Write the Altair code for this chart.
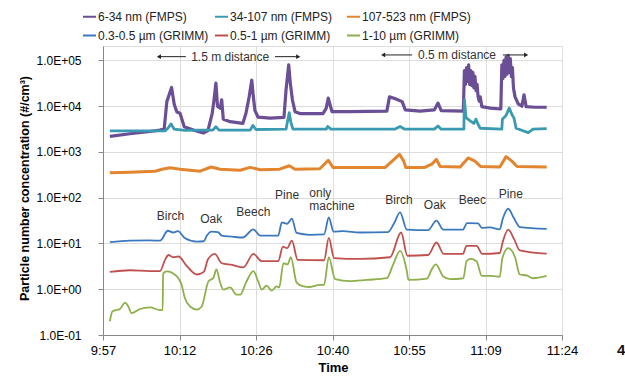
import altair as alt
import pandas as pd

# ---------------- data (minutes after 9:57, concentration #/cm3) ----------------
series_names = ["6-34 nm (FMPS)", "34-107 nm (FMPS)", "107-523 nm (FMPS)",
                "0.3-0.5 µm (GRIMM)", "0.5-1 µm (GRIMM)", "1-10 µm (GRIMM)"]
series_colors = ["#6A4E96", "#3A9AB2", "#E3852E", "#3C78C0", "#C0504D", "#8DB04A"]
series_widths = [3.2, 2.8, 3.0, 1.8, 1.8, 1.8]
series_group = ["FMPS", "FMPS", "FMPS", "GRIMM", "GRIMM", "GRIMM"]
# legend is laid out column by column: order so that rows read as in the figure
legend_order = [0, 3, 1, 4, 2, 5]

t_s1 = [1.3, 5.1, 8.9, 10.8, 11.6, 12.1, 13.0, 13.5, 14.0, 14.6, 15.0, 15.4, 17.4, 19.0, 19.9,
        20.7, 21.0, 21.4, 21.7, 22.2, 22.5, 22.8, 24.1, 26.5, 27.1, 27.7, 28.2, 28.5, 28.8, 29.4,
        31.7, 34.3, 34.7, 35.2, 35.5, 35.9, 36.4, 37.3, 41.7, 42.3, 42.7, 43.0, 43.4, 46.8, 53.8,
        54.3, 55.3, 56.7, 57.3, 60.1, 62.8, 63.5, 64.1, 68.3,
        68.5, 68.7, 68.9, 69.1, 69.3, 69.5, 69.7, 69.9, 70.1, 70.3, 70.5, 70.7, 70.9, 71.1, 71.3,
        71.5, 71.8, 73.4, 75.4,
        75.6, 75.8, 76.0, 76.2, 76.4, 76.6, 76.8, 77.0, 77.2, 77.4, 77.6, 77.8, 78.1, 78.7, 79.4,
        79.8, 80.2, 81.9, 84.1]
v_s1 = [2200, 2500, 2800, 3000, 3200, 12600, 25700, 11000, 7500, 7000, 5000, 3550, 2950, 2600, 2950,
        7000, 12600, 32000, 10000, 9000, 13800, 5200, 4600, 4200, 7000, 16000, 37000, 16000, 8000, 5750,
        5500, 5700, 23000, 80000, 32000, 13800, 7600, 6900, 6900, 9000, 15000, 11200, 7600, 7600, 7800,
        16000, 14800, 12600, 8300, 7800, 8300, 11700, 8000, 7800,
        60000, 30000, 70000, 35000, 80000, 30000, 60000, 28000, 55000, 25000, 45000, 22000, 30000, 16000, 13000,
        16000, 9800, 9100, 8700,
        80000, 40000, 100000, 45000, 120000, 50000, 130000, 55000, 110000, 45000, 70000, 25000, 16000, 11200, 10000,
        17800, 9800, 9500, 9500]

t_s2 = [1.3, 11.8, 12.3, 12.9, 13.5, 15.5, 18.4, 20.8, 21.4, 22.0, 27.9, 28.4, 29.0, 34.7, 35.1,
        35.3, 35.6, 36.0, 42.3, 42.6, 43.2, 55.3, 56.3, 57.2, 62.8, 63.5, 64.1, 68.4, 68.5, 68.8,
        69.6, 70.3, 70.7, 71.1, 71.5, 75.6, 75.7, 76.4, 77.0, 77.5, 77.9, 78.3, 80.6, 81.5, 84.1]
v_s2 = [2900, 2900, 3300, 4100, 3150, 2950, 3000, 3000, 3550, 3000, 3000, 3800, 3100, 3150, 5600,
        7200, 4500, 3150, 3150, 3600, 3150, 3150, 3600, 3150, 3150, 3700, 3150, 3150, 14000, 5600,
        4800, 4200, 5200, 4000, 3300, 3150, 5200, 6300, 9100, 6600, 5500, 3300, 2650, 3150, 3250]

t_s3 = [1.3, 5.1, 9.9, 11.2, 12.7, 14.6, 18.4, 20.5, 22.2, 26.0, 27.9, 29.8, 33.5, 35.3, 36.4,
        41.1, 42.7, 43.6, 53.5, 54.8, 56.2, 57.0, 57.4, 61.0, 62.4, 63.2, 63.9, 67.7, 69.2, 70.5,
        71.6, 75.2, 76.4, 77.5, 78.5, 84.1]
v_s3 = [350, 360, 380, 420, 450, 420, 380, 470, 420, 400, 460, 410, 420, 500, 420,
        430, 660, 460, 460, 630, 890, 630, 460, 460, 550, 690, 480, 470, 740, 630,
        480, 470, 790, 630, 480, 470]

t_s4 = [1.3, 5.1, 8.9, 10.8, 12.3, 13.3, 14.2, 15.5, 17.8, 19.1, 19.7, 20.6, 21.8, 22.5, 24.5,
        26.5, 28.5, 29.8, 33.2, 33.9, 34.9, 35.8, 36.7, 39.2, 41.9, 42.8, 43.7, 45.5, 48.7, 54.0,
        55.2, 56.3, 57.6, 61.6, 63.2, 64.5, 68.2, 69.0, 71.1, 71.8, 73.3, 75.2, 75.8, 76.8, 77.9,
        79.0, 84.1]
v_s4 = [10.7, 11.5, 11.7, 11.5, 19, 17.4, 18.6, 13.2, 11, 11.2, 15, 18.2, 17.8, 14.8, 14.1,
        13.5, 20.4, 14.8, 14.8, 28.8, 27, 34.7, 17, 15.5, 15.8, 37, 18.2, 18.6, 17.4, 17.8,
        28, 48, 20, 19.5, 31.6, 20, 20, 28, 27.5, 21.9, 22.4, 20.4, 35.5, 57.5, 35.5,
        22.9, 20.9]

t_s5 = [1.3, 5.1, 8.9, 10.8, 11.8, 12.4, 13.3, 14.3, 15.9, 17.8, 19.1, 19.9, 21.2, 22.5, 24.5,
        26.6, 28.5, 30.1, 33.2, 34.1, 34.9, 35.8, 36.9, 41.9, 42.8, 43.8, 48.7, 54.4, 56.5, 57.7,
        61.6, 63.2, 64.6, 68.2, 68.9, 70.8, 71.9, 75.2, 75.8, 76.8, 77.9, 79.0, 84.1]
v_s5 = [2.4, 2.6, 2.5, 2.5, 4.5, 5.6, 5.0, 5.2, 3.2, 2.1, 2.4, 4.5, 5.9, 3.7, 3.4,
        3.0, 5.9, 4.1, 4.1, 8.5, 7.9, 11.5, 4.4, 4.3, 13.2, 4.8, 4.6, 5.0, 17.4, 5.4,
        5.6, 10.5, 5.9, 5.9, 8.9, 8.9, 5.9, 6.2, 11.2, 20, 12.6, 7.1, 6.0]

t_s6 = [1.3, 1.8, 3.2, 4.2, 4.8, 5.4, 7.0, 8.9, 10.8, 11.3, 11.4, 12.1, 14.0, 14.9, 15.5,
        16.5, 17.8, 18.7, 20.0, 20.9, 21.5, 22.2, 22.8, 24.1, 25.3, 26.0, 27.1, 28.5, 29.4, 30.1,
        31.0, 32.0, 32.9, 33.4, 34.2, 35.0, 35.6, 36.7, 38.0, 39.2, 41.1, 41.9, 42.8, 44.0, 46.8,
        50.0, 53.8, 55.0, 56.3, 57.6, 57.9, 61.4, 62.3, 63.1, 64.5, 65.8, 68.3, 68.9, 69.6, 70.8,
        71.8, 73.7, 75.2, 75.7, 76.8, 78.1, 79.0, 80.3, 81.5, 84.1]
v_s6 = [0.20, 0.33, 0.37, 0.51, 0.42, 0.30, 0.37, 0.40, 0.35, 0.35, 2.2, 2.45, 1.9, 1.25, 0.65,
        0.42, 0.36, 0.42, 1.5, 1.75, 2.7, 1.4, 0.98, 1.1, 0.76, 0.76, 1.4, 2.5, 1.5, 0.98,
        1.2, 0.93, 1.15, 1.1, 3.7, 3.5, 5.0, 1.4, 1.15, 1.12, 1.25, 1.25, 5.0, 1.66, 1.5,
        1.6, 1.74, 3.5, 6.9, 2.45, 1.6, 1.7, 2.7, 3.5, 1.9, 1.66, 1.74, 4.1, 4.6, 4.1,
        1.95, 1.95, 1.86, 4.8, 7.9, 5.0, 2.1, 2.0, 1.74, 1.95]

times = [t_s1, t_s2, t_s3, t_s4, t_s5, t_s6]
values = [v_s1, v_s2, v_s3, v_s4, v_s5, v_s6]

# annotations
wood_labels = ["Birch", "Oak", "Beech", "Pine", "Birch", "Oak", "Beec", "Pine"]
wood_t = [12.8, 20.5, 28.5, 34.9, 56.1, 62.9, 70.0, 77.3]
wood_v = [39, 35, 48, 112, 89, 71, 89, 120]
machine_labels = ["only", "machine"]
machine_t = [39.1, 39.1]
machine_v = [129, 66]

dist_labels = ["1.5 m distance", "0.5 m distance"]
dist_t = [24.1, 67.1]
dist_v = [121000, 132000]
arrow_t_start = [15.7, 32.6, 58.6, 75.8]
arrow_t_end = [10.6, 37.0, 53.1, 80.2]
arrow_v = [121000, 121000, 132000, 132000]
arrow_dir = ["triangle-left", "triangle-right", "triangle-left", "triangle-right"]

x_ticks = [0, 14.5, 29, 43.5, 58, 72.5, 87]
x_tick_labels = ["9:57", "10:12", "10:26", "10:40", "10:55", "11:09", "11:24"]
y_ticks = [0.1, 1, 10, 100, 1000, 10000, 100000]
y_tick_labels = ["1.0E-01", "1.0E+00", "1.0E+01", "1.0E+02", "1.0E+03", "1.0E+04", "1.0E+05"]

# ---------------- build tables ----------------
rows = []
for name, grp, w, ts, vs in zip(series_names, series_group, series_widths, times, values):
    for i, (t, v) in enumerate(zip(ts, vs)):
        rows.append({"series": name, "grp": grp, "t": t, "v": v, "i": i, "sw": w})
df = pd.DataFrame(rows)

leg_domain = [series_names[k] for k in legend_order]
leg_range = [series_colors[k] for k in legend_order]

wood_df = pd.DataFrame({"label": wood_labels, "t": wood_t, "v": wood_v})
mach_df = pd.DataFrame({"label": machine_labels, "t": machine_t, "v": machine_v})
dist_df = pd.DataFrame({"label": dist_labels, "t": dist_t, "v": dist_v})
arr_df = pd.DataFrame({"t0": arrow_t_start, "t1": arrow_t_end, "v": arrow_v, "shape": arrow_dir})

FONT = "Liberation Sans"

xlab_expr = "%s[indexof(%s, datum.value)]" % (str(x_tick_labels), str(x_ticks))
ylab_expr = "%s[round(log(datum.value)/LN10)+1]" % str(y_tick_labels)

x_scale = alt.Scale(domain=[0, 87], nice=False, zero=False)
y_scale = alt.Scale(type="log", domain=[0.1, 207000], nice=False)

x_enc = alt.X("t:Q", scale=x_scale,
              axis=alt.Axis(values=x_ticks, labelExpr=xlab_expr, title="Time",
                            tickSize=5, labelPadding=4, labelFontSize=13,
                            titleFontSize=13, titleFontWeight="bold",
                            titleX=230, titleY=32, titleBaseline="middle",
                            labelFlush=False, labelOverlap=False))
y_enc = alt.Y("v:Q", scale=y_scale,
              axis=alt.Axis(values=y_ticks, labelExpr=ylab_expr,
                            title="Particle number concentration (#/cm³)",
                            tickSize=5, labelPadding=17, labelFontSize=12,
                            titleFontSize=12.5, titleFontWeight="bold",
                            titleX=-79, titleY=142, titleAngle=270,
                            titleAlign="center", titleBaseline="middle"))

color_enc = alt.Color("series:N",
                      scale=alt.Scale(domain=leg_domain, range=leg_range),
                      sort=leg_domain,
                      legend=alt.Legend(orient="none", legendX=-21, legendY=-37, columns=3,
                                        title=None, symbolType="stroke", symbolSize=169,
                                        symbolStrokeWidth=2, labelFontSize=12, labelFont=FONT,
                                        labelColor="#222222", labelOffset=1, columnPadding=2,
                                        rowPadding=5, gridAlign="all"))

base = alt.Chart(df).encode(
    x=x_enc,
    y=y_enc,
    color=color_enc,
    strokeWidth=alt.StrokeWidth("sw:Q", scale=None, legend=None),
    detail="series:N",
    order="i:Q",
)
lines_fmps = base.mark_line(strokeJoin="round").transform_filter(alt.datum.grp == "FMPS")
lines_grimm = base.mark_line(strokeJoin="round", interpolate="monotone").transform_filter(
    alt.datum.grp == "GRIMM")

txt_kw = dict(font=FONT, fontSize=12, color="#333333")
wood = alt.Chart(wood_df).mark_text(align="center", baseline="middle", **txt_kw).encode(
    x=alt.X("t:Q", scale=x_scale), y=alt.Y("v:Q", scale=y_scale), text="label:N")
mach = alt.Chart(mach_df).mark_text(align="left", baseline="middle", **txt_kw).encode(
    x=alt.X("t:Q", scale=x_scale), y=alt.Y("v:Q", scale=y_scale), text="label:N")
dist = alt.Chart(dist_df).mark_text(align="center", baseline="middle", **txt_kw).encode(
    x=alt.X("t:Q", scale=x_scale), y=alt.Y("v:Q", scale=y_scale), text="label:N")
arr_lines = alt.Chart(arr_df).mark_rule(color="#222222", strokeWidth=1).encode(
    x=alt.X("t0:Q", scale=x_scale), x2="t1:Q", y=alt.Y("v:Q", scale=y_scale))
arr_heads = alt.Chart(arr_df).mark_point(filled=True, color="#222222", size=22, opacity=1).encode(
    x=alt.X("t1:Q", scale=x_scale), y=alt.Y("v:Q", scale=y_scale),
    shape=alt.Shape("shape:N", scale=None, legend=None))

fig_num = alt.Chart(pd.DataFrame({"label": ["4"]})).mark_text(
    align="left", baseline="middle", font=FONT, fontSize=15, fontWeight="bold", color="#111111"
).encode(x=alt.value(514), y=alt.value(304), text="label:N")

chart = alt.layer(lines_fmps, lines_grimm, wood, mach, dist, arr_lines, arr_heads, fig_num).properties(
    width=459, height=289,
    padding={"left": 103, "top": 46, "right": 63, "bottom": 43},
    autosize="none",
).configure_view(stroke="#a6a6a6", strokeWidth=1).configure_axis(
    grid=False, domainColor="#a6a6a6", tickColor="#a6a6a6", labelFont=FONT, titleFont=FONT,
    labelColor="#222222", titleColor="#111111"
).configure(background="white")

chart.save("out.html", embed_options={"renderer": "svg", "actions": False})
